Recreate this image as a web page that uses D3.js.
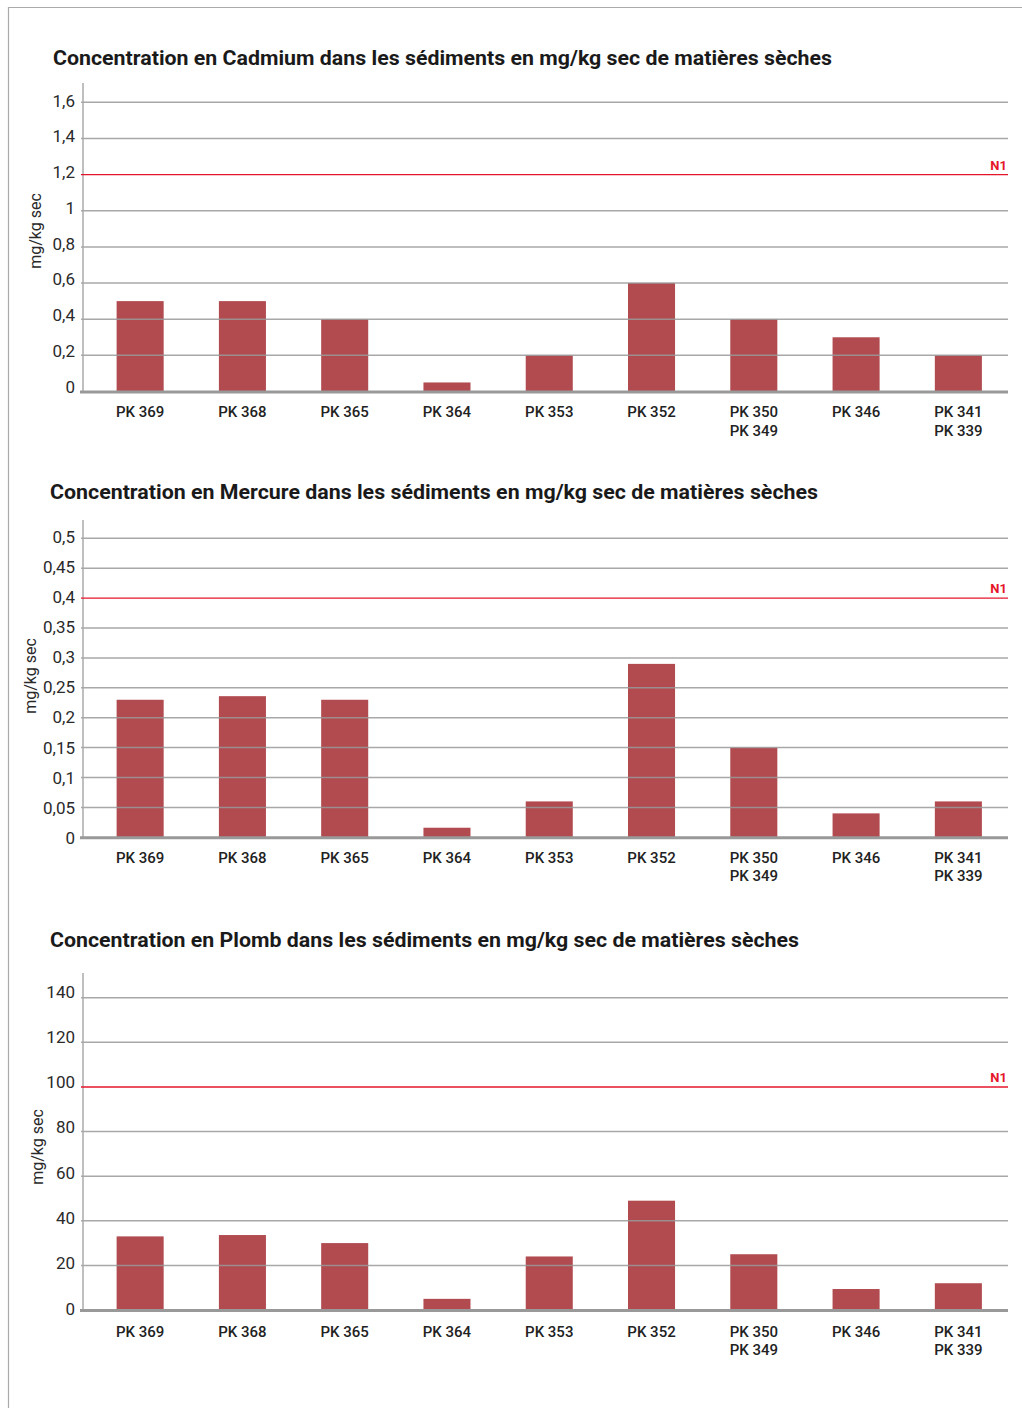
<!DOCTYPE html>
<html>
<head>
<meta charset="utf-8">
<script src="https://cdn.jsdelivr.net/npm/d3@7"></script>
<style>
  html, body { margin: 0; padding: 0; background: #fff; }
  svg { display: block; }
  text { font-family: Roboto, "Noto Sans", sans-serif; }
</style>
</head>
<body>
<svg id="page" width="1022" height="1408"></svg>
<script>
// Sampling stations (kilometric points along the river)
const stations = ["PK 369", "PK 368", "PK 365", "PK 364", "PK 353", "PK 352", "PK 350|PK 349", "PK 346", "PK 341|PK 339"];

// Cadmium, mg/kg dry matter
const cadmiumValues = [0.5, 0.5, 0.4, 0.05, 0.2, 0.6, 0.4, 0.3, 0.2];
const cadmiumTicks = [0, 0.2, 0.4, 0.6, 0.8, 1, 1.2, 1.4, 1.6];
const cadmiumN1 = 1.2;

// Mercury, mg/kg dry matter
const mercureValues = [0.23, 0.236, 0.23, 0.016, 0.06, 0.29, 0.15, 0.04, 0.06];
const mercureTicks = [0, 0.05, 0.1, 0.15, 0.2, 0.25, 0.3, 0.35, 0.4, 0.45, 0.5];
const mercureN1 = 0.4;

// Lead, mg/kg dry matter
const plombValues = [33, 33.6, 30, 5, 24, 49, 25, 9.4, 12];
const plombTicks = [0, 20, 40, 60, 80, 100, 120, 140];
const plombN1 = 100;

const titles = [
  "Concentration en Cadmium dans les sédiments en mg/kg sec de matières sèches",
  "Concentration en Mercure dans les sédiments en mg/kg sec de matières sèches",
  "Concentration en Plomb dans les sédiments en mg/kg sec de matières sèches"
];

const svg = d3.select("#page");

// page frame (top and left rules)
svg.append("line").attr("x1", 8).attr("x2", 1022).attr("y1", 7.5).attr("y2", 7.5)
  .attr("stroke", "#aaa").attr("stroke-width", 1.2);
svg.append("line").attr("x1", 8.5).attr("x2", 8.5).attr("y1", 7).attr("y2", 1408)
  .attr("stroke", "#aaa").attr("stroke-width", 1.2);

const fmt = v => String(v).replace(".", ",");
const barColor = "#b14b50";
const n1Color = "#e5142b";

function drawChart(cfg) {
  const g = svg.append("g");
  const axisX = 83, right = 1008;

  const y = d3.scaleLinear().domain([0, cfg.max]).range([cfg.y0, cfg.yTop]);
  // tick labels sit on their own, slightly different vertical scale
  const yLab = d3.scaleLinear().domain([0, cfg.max]).range(cfg.labRange);
  const x = d3.scaleBand().domain(stations).range([89, 1009.5]).paddingInner(0.54).paddingOuter(0.27);

  // title
  g.append("text").attr("x", cfg.titleX).attr("y", cfg.titleY)
    .attr("font-size", 19.5).attr("font-weight", 700).attr("fill", "#1a1a1a")
    .attr("textLength", cfg.titleW).attr("lengthAdjust", "spacingAndGlyphs")
    .text(cfg.title);

  // bars
  g.selectAll("rect.bar").data(cfg.values).join("rect")
    .attr("class", "bar")
    .attr("x", (d, i) => x(stations[i]))
    .attr("width", x.bandwidth())
    .attr("y", d => y(d))
    .attr("height", d => y(0) - y(d))
    .attr("fill", barColor);

  // horizontal gridlines (drawn over the bars)
  g.selectAll("line.grid").data(cfg.ticks.filter(t => t > 0 && t !== cfg.n1)).join("line")
    .attr("class", "grid")
    .attr("x1", axisX - 2).attr("x2", right)
    .attr("y1", d => y(d)).attr("y2", d => y(d))
    .attr("stroke", "#999").attr("stroke-opacity", 0.85).attr("stroke-width", 1.5);

  // vertical axis
  g.append("line").attr("x1", axisX).attr("x2", axisX)
    .attr("y1", cfg.axisTop).attr("y2", cfg.y0)
    .attr("stroke", "#aaa").attr("stroke-width", 1.5);

  // N1 threshold
  g.append("line").attr("x1", axisX - 2).attr("x2", right)
    .attr("y1", y(cfg.n1)).attr("y2", y(cfg.n1))
    .attr("stroke", n1Color).attr("stroke-width", 1.4);
  g.append("text").attr("x", right - 1).attr("y", y(cfg.n1) - 5)
    .attr("text-anchor", "end").attr("font-size", 13).attr("font-weight", 700)
    .attr("fill", n1Color).text("N1");

  // baseline
  g.append("line").attr("x1", axisX - 3).attr("x2", right)
    .attr("y1", y(0) + 0.5).attr("y2", y(0) + 0.5)
    .attr("stroke", "#999").attr("stroke-width", 3);

  // tick labels
  g.selectAll("text.tick").data(cfg.ticks).join("text")
    .attr("class", "tick")
    .attr("x", 75).attr("y", d => yLab(d) + 6)
    .attr("text-anchor", "end").attr("font-size", 17).attr("fill", "#2a2a2a")
    .text(fmt);

  // axis title
  g.append("text")
    .attr("transform", `translate(${cfg.yTitleX},${cfg.yTitleY}) rotate(-90)`)
    .attr("text-anchor", "middle").attr("font-size", 16).attr("fill", "#2a2a2a")
    .text("mg/kg sec");

  // category labels
  const lab = g.selectAll("text.cat").data(stations).join("text")
    .attr("class", "cat")
    .attr("text-anchor", "middle").attr("font-size", 15).attr("font-weight", 500)
    .attr("fill", "#222")
    .attr("x", d => x(d) + x.bandwidth() / 2)
    .attr("y", y(0) + cfg.labDy);
  lab.selectAll("tspan").data(d => d.split("|")).join("tspan")
    .attr("x", function () { return d3.select(this.parentNode).attr("x"); })
    .attr("dy", (d, i) => i === 0 ? 0 : 18.5)
    .text(d => d);
}

drawChart({
  title: titles[0], titleX: 53, titleY: 64.5, titleW: 779,
  values: cadmiumValues, ticks: cadmiumTicks, n1: cadmiumN1, max: 1.6,
  y0: 391.5, yTop: 102.3, axisTop: 83, labRange: [386.5, 100.7],
  yTitleX: 41, yTitleY: 231, labDy: 25.5
});

drawChart({
  title: titles[1], titleX: 50, titleY: 498.5, titleW: 768,
  values: mercureValues, ticks: mercureTicks, n1: mercureN1, max: 0.5,
  y0: 837.3, yTop: 538.3, axisTop: 520, labRange: [838, 536.7],
  yTitleX: 36, yTitleY: 676, labDy: 25.5
});

drawChart({
  title: titles[2], titleX: 50, titleY: 946.5, titleW: 749,
  values: plombValues, ticks: plombTicks, n1: plombN1, max: 140,
  y0: 1310, yTop: 997.7, axisTop: 973, labRange: [1308.5, 991.7],
  yTitleX: 43, yTitleY: 1147, labDy: 26.5
});
</script>
</body>
</html>
